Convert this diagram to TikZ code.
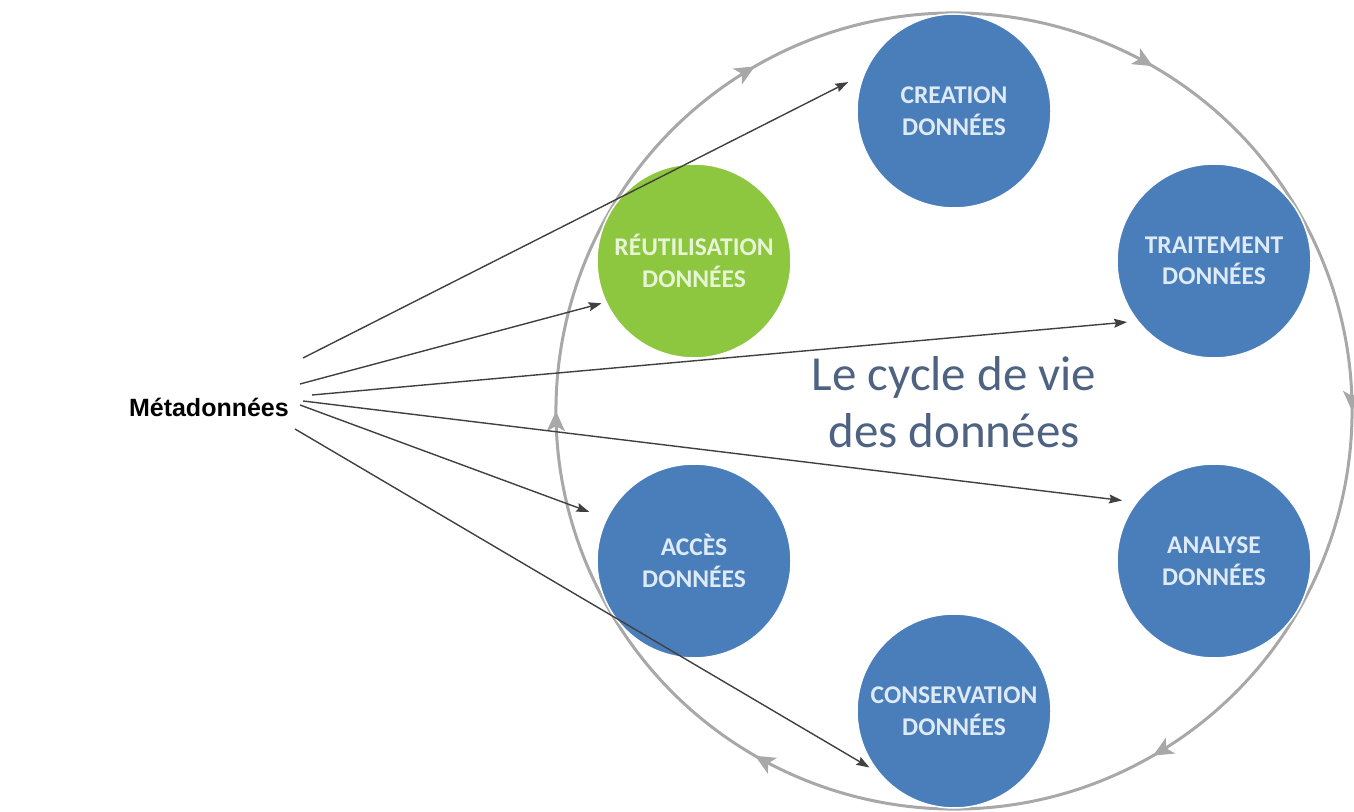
\documentclass[tikz,border=0pt]{standalone}
\usepackage{fontspec}
\setmainfont{Carlito}
\newfontfamily\arialfont{Liberation Sans}
\usetikzlibrary{arrows.meta,decorations.markings}

\definecolor{stageblue}{RGB}{74,126,187}
\definecolor{stagegreen}{RGB}{141,198,63}
\definecolor{stagetext}{RGB}{222,234,246}
\definecolor{reusetext}{RGB}{232,244,214}
\definecolor{ringgray}{RGB}{168,168,168}
\definecolor{titleslate}{RGB}{78,98,130}
\definecolor{pointer}{RGB}{64,64,64}

\tikzset{
  stage/.style={circle, minimum size=194pt, inner sep=0pt, draw=white, line width=1.5pt,
    fill=stageblue, text=stagetext, align=center, font=\bfseries\fontsize{25.5}{31.5}\selectfont},
  reuse/.style={stage, fill=stagegreen, text=reusetext},
  pointerarrow/.style={draw=pointer, line width=1.4pt, -{Stealth[length=13pt,width=9pt,inset=2pt]}}
}

\begin{document}
\begin{tikzpicture}[x=1pt, y=1pt]
        \useasboundingbox (0,0) rectangle (1354,811);
        \coordinate (mid) at (954,400);

        % the cycle
        \draw[ringgray, line width=3pt, postaction={decorate},
          decoration={markings, mark=between positions 1/12 and 1 step 1/6 with
            {\arrow{Stealth[length=20pt,width=18pt,inset=5pt]}}}]
          (mid) ++(30:398) arc[start angle=30, end angle=-330, radius=398];

        \node[stage] (crea) at (954,700) {CREATION\\DONNÉES};
        \node[stage] (trai) at (1214,550) {TRAITEMENT\\DONNÉES};
        \node[stage] (anal) at (1214,250) {ANALYSE\\DONNÉES};
        \node[stage] (cons) at (954,100) {CONSERVATION\\DONNÉES};
        \node[stage] (acce) at (694,250) {ACCÈS\\DONNÉES};
        \node[reuse] (reut) at (694,550) {RÉUTILISATION\\DONNÉES};

        \node[text=titleslate, align=center, font=\fontsize{49}{57}\selectfont] (title) at (954,409)
          {Le cycle de vie\\des données};

        \node[anchor=base east, font=\arialfont\bfseries\fontsize{25}{30}\selectfont, inner sep=0pt] (meta)
          at (289,394) {Métadonnées};

        % pointers
        \coordinate (m1) at (303,453);
        \coordinate (m2) at (300,427);
        \coordinate (m3) at (312,416);
        \coordinate (m4) at (303,410);
        \coordinate (m5) at (300,406);
        \coordinate (m6) at (295,382);
        \draw[pointerarrow, shorten >=17pt] (m1) -- (crea.158);
        \draw[pointerarrow, shorten >=4pt] (m2) -- (reut.205);
        \draw[pointerarrow, shorten >=10pt] (m3) -- (trai.218);
        \draw[pointerarrow, shorten >=14pt] (m4) -- (anal.143);
        \draw[pointerarrow, shorten >=18pt] (m5) -- (acce.154);
        \draw[pointerarrow, shorten >=10pt] (m6) -- (cons.219);
\end{tikzpicture}
\end{document}
